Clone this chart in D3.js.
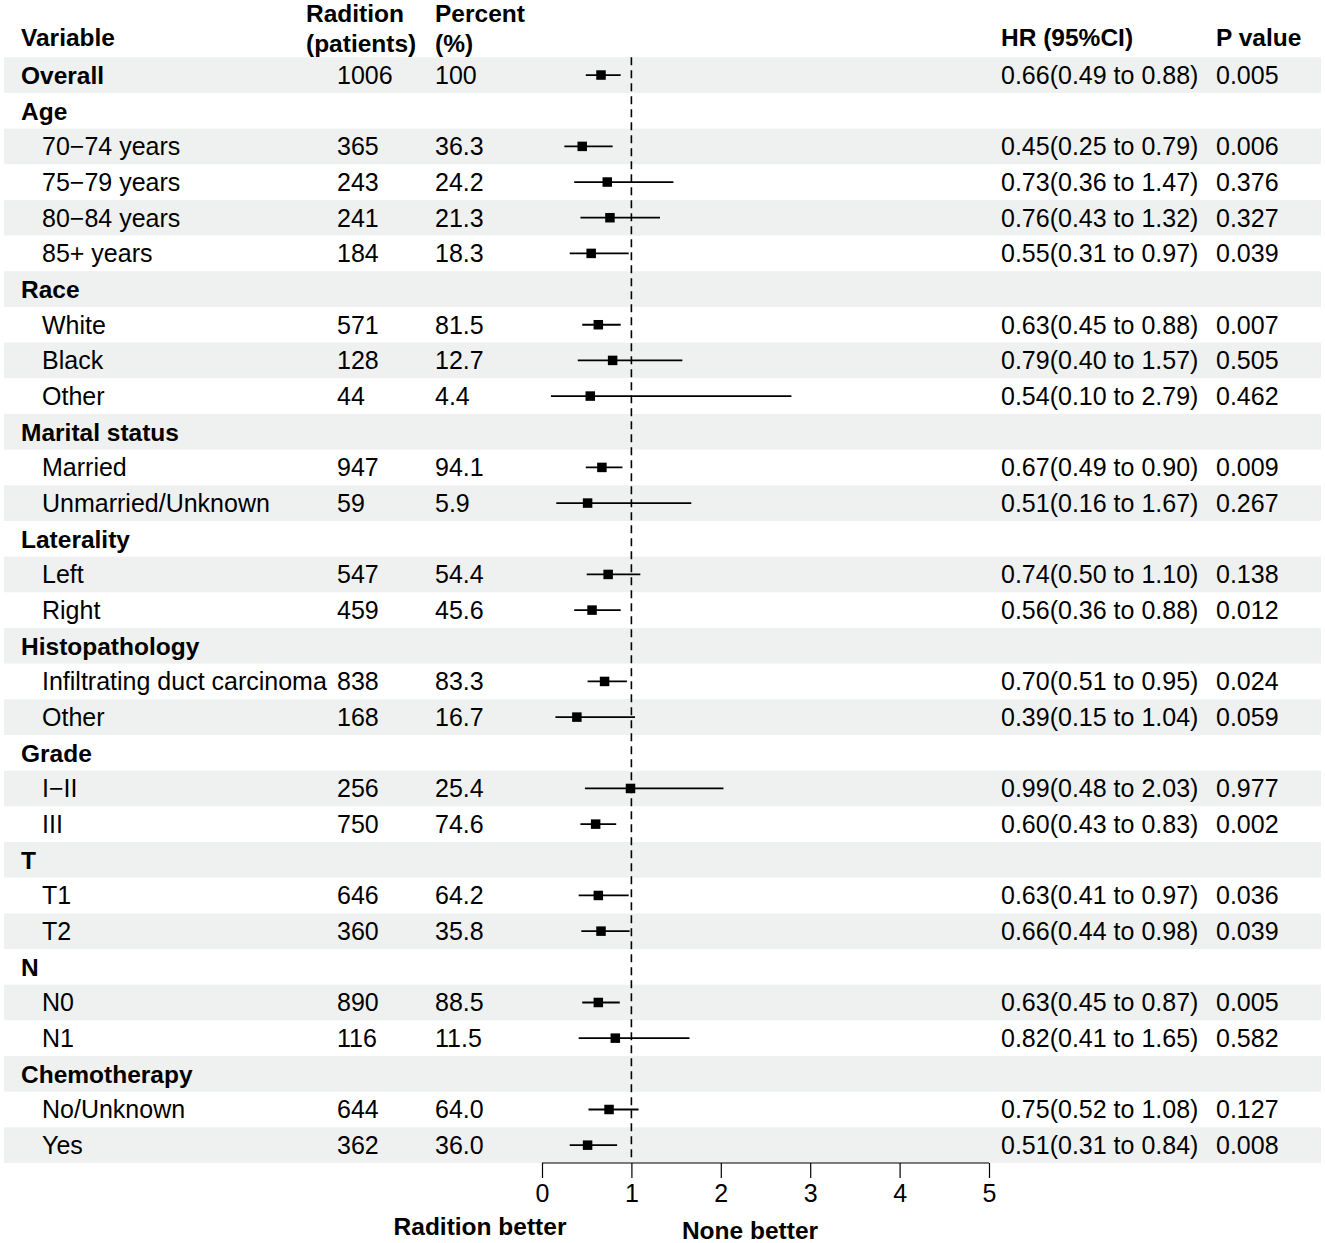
<!DOCTYPE html>
<html lang="en">
<head>
  <meta charset="UTF-8">
  <title>Forest plot</title>
  <script src="https://d3js.org/d3.v7.min.js"></script>
  <style>
    body { margin: 0; background: #fff; }
    svg { display: block; }
    text { font-family: "Liberation Sans", Arial, sans-serif; font-size: 25px; fill: #000; }
    .bold { font-weight: bold; font-size: 24.5px; }
    .band { fill: #eff1f0; }
    .ci { stroke: #000; stroke-width: 1.8; }
    .ref { stroke: #000; stroke-width: 1.6; stroke-dasharray: 8,5; }
    .axis path, .axis line { stroke: #000; stroke-width: 1.2; }
  </style>
</head>
<body>
  <svg id="chart"></svg>
  <script>
    // rows of the table, top to bottom
    const labels = ["Overall", "Age", "70\u221274 years", "75\u221279 years", "80\u221284 years", "85+ years",
      "Race", "White", "Black", "Other", "Marital status", "Married", "Unmarried/Unknown",
      "Laterality", "Left", "Right", "Histopathology", "Infiltrating duct carcinoma", "Other",
      "Grade", "I\u2212II", "III", "T", "T1", "T2", "N", "N0", "N1",
      "Chemotherapy", "No/Unknown", "Yes"];
    const isGroup = [1, 1, 0, 0, 0, 0, 1, 0, 0, 0, 1, 0, 0, 1, 0, 0, 1, 0, 0, 1, 0, 0, 1, 0, 0, 1, 0, 0, 1, 0, 0];
    const patients = ["1006", "", "365", "243", "241", "184", "", "571", "128", "44", "", "947", "59",
      "", "547", "459", "", "838", "168", "", "256", "750", "", "646", "360", "", "890", "116", "", "644", "362"];
    const percent = ["100", "", "36.3", "24.2", "21.3", "18.3", "", "81.5", "12.7", "4.4", "", "94.1", "5.9",
      "", "54.4", "45.6", "", "83.3", "16.7", "", "25.4", "74.6", "", "64.2", "35.8", "", "88.5", "11.5", "", "64.0", "36.0"];
    const hr = [0.66, null, 0.45, 0.73, 0.76, 0.55, null, 0.63, 0.79, 0.54, null, 0.67, 0.51,
      null, 0.74, 0.56, null, 0.70, 0.39, null, 0.99, 0.60, null, 0.63, 0.66, null, 0.63, 0.82, null, 0.75, 0.51];
    const lower = [0.49, null, 0.25, 0.36, 0.43, 0.31, null, 0.45, 0.40, 0.10, null, 0.49, 0.16,
      null, 0.50, 0.36, null, 0.51, 0.15, null, 0.48, 0.43, null, 0.41, 0.44, null, 0.45, 0.41, null, 0.52, 0.31];
    const upper = [0.88, null, 0.79, 1.47, 1.32, 0.97, null, 0.88, 1.57, 2.79, null, 0.90, 1.67,
      null, 1.10, 0.88, null, 0.95, 1.04, null, 2.03, 0.83, null, 0.97, 0.98, null, 0.87, 1.65, null, 1.08, 0.84];
    const pvalue = ["0.005", "", "0.006", "0.376", "0.327", "0.039", "", "0.007", "0.505", "0.462", "", "0.009", "0.267",
      "", "0.138", "0.012", "", "0.024", "0.059", "", "0.977", "0.002", "", "0.036", "0.039", "", "0.005", "0.582", "", "0.127", "0.008"];
    const xTicks = [0, 1, 2, 3, 4, 5];

    const width = 1325, height = 1243;
    const svg = d3.select("#chart").attr("width", width).attr("height", height);

    const rows = labels.map((d, i) => ({
      i, label: d, group: isGroup[i], n: patients[i], pct: percent[i],
      hr: hr[i], lo: lower[i], hi: upper[i], p: pvalue[i]
    }));

    const y = d3.scaleBand().domain(d3.range(rows.length)).range([57.2, 1163]);
    const x = d3.scaleLinear().domain([0, 5]).range([542, 989]);
    const yc = i => y(i) + y.bandwidth() / 2;

    // zebra bands
    svg.append("g").selectAll("rect")
      .data(rows.filter(d => d.i % 2 === 0))
      .enter().append("rect")
      .attr("class", "band")
      .attr("x", 4).attr("width", 1317)
      .attr("y", d => y(d.i)).attr("height", y.bandwidth());

    // column headers
    const head = svg.append("g");
    const hdr = (xp, yp, t) => head.append("text").attr("class", "bold").attr("x", xp).attr("y", yp).text(t);
    hdr(21, 46, "Variable");
    hdr(306, 22, "Radition");
    hdr(306, 52, "(patients)");
    hdr(435, 22, "Percent");
    hdr(435, 52, "(%)");
    hdr(1001, 46, "HR (95%CI)");
    hdr(1216, 46, "P value");

    // table text
    const body = svg.append("g");
    const cell = (xp, f) => body.append("g").selectAll("text")
      .data(rows).enter().append("text")
      .attr("x", xp).attr("y", d => yc(d.i)).attr("dy", "0.36em")
      .text(f);

    cell(d => d.group ? 21 : 42, d => d.label)
      .attr("class", d => d.group ? "bold" : null);
    cell(337, d => d.n);
    cell(435, d => d.pct);
    cell(1001, d => d.hr == null ? "" : `${d.hr.toFixed(2)}(${d.lo.toFixed(2)} to ${d.hi.toFixed(2)})`);
    cell(1216, d => d.p);

    // reference line at HR = 1
    svg.append("line").attr("class", "ref")
      .attr("x1", x(1)).attr("x2", x(1))
      .attr("y1", y(0)).attr("y2", 1160);

    // CI lines and point estimates
    const est = rows.filter(d => d.hr != null);
    svg.append("g").selectAll("line")
      .data(est).enter().append("line")
      .attr("class", "ci")
      .attr("x1", d => x(d.lo)).attr("x2", d => x(d.hi))
      .attr("y1", d => yc(d.i)).attr("y2", d => yc(d.i));

    const sq = 9.5;
    svg.append("g").selectAll("rect")
      .data(est).enter().append("rect")
      .attr("x", d => x(d.hr) - sq / 2).attr("y", d => yc(d.i) - sq / 2)
      .attr("width", sq).attr("height", sq)
      .attr("fill", "#000");

    // x axis
    const axis = svg.append("g")
      .attr("class", "axis")
      .attr("transform", "translate(0,1163)")
      .call(d3.axisBottom(x).tickValues(xTicks).tickFormat(d3.format("d"))
        .tickSize(15).tickSizeOuter(0).tickPadding(6));
    axis.selectAll("text").style("font-size", "25px").style("font-family", "'Liberation Sans', Arial, sans-serif");
    axis.select(".domain").attr("d", `M${x(0)},0H${x(5)}`);

    svg.append("text").attr("class", "bold").attr("x", 480).attr("y", 1235)
      .attr("text-anchor", "middle").text("Radition better");
    svg.append("text").attr("class", "bold").attr("x", 750).attr("y", 1239)
      .attr("text-anchor", "middle").text("None better");
  </script>
</body>
</html>
